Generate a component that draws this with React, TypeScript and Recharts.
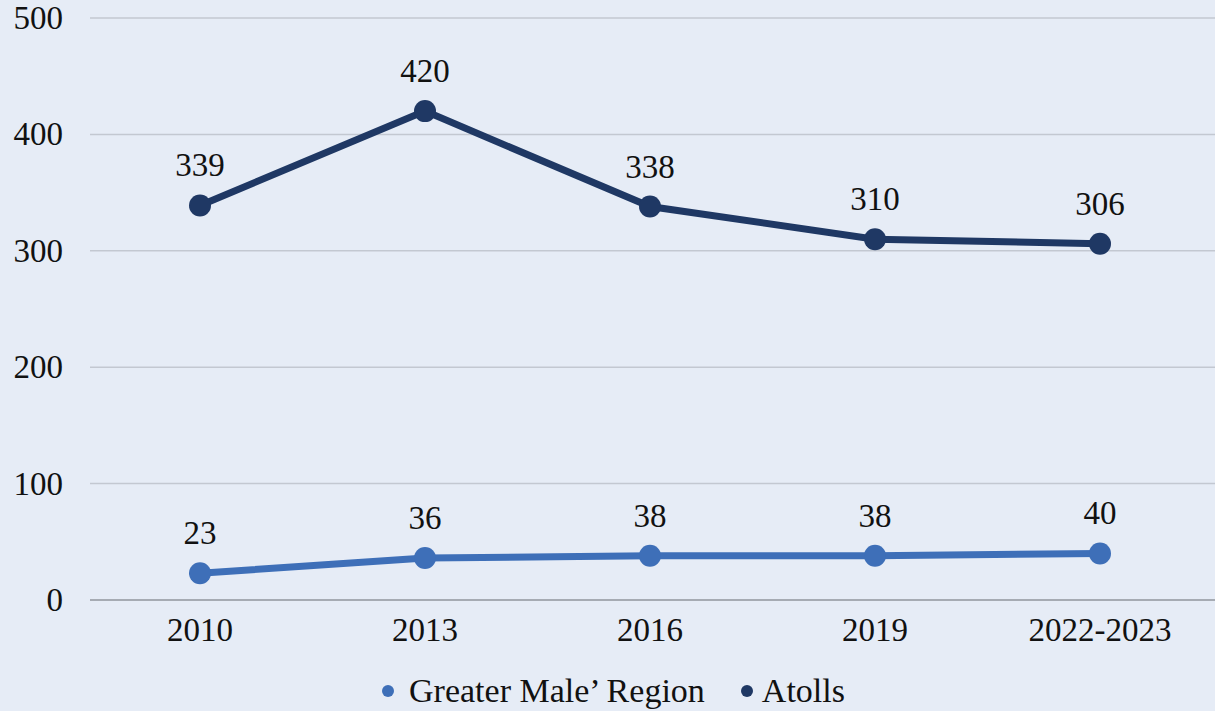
import React from "react";
import { LineChart, Line, XAxis, YAxis, CartesianGrid, Legend, LabelList } from "recharts";

const categories = ["2010", "2013", "2016", "2019", "2022-2023"];
const greaterMale = [23, 36, 38, 38, 40];
const atolls = [339, 420, 338, 310, 306];
const yTicks = [0, 100, 200, 300, 400, 500];

const data = categories.map((c, i) => ({ year: c, male: greaterMale[i], atolls: atolls[i] }));

const FONT = "Liberation Serif, Tinos, Times New Roman, DejaVu Serif, serif";
const LIGHT = "#3e6fb8";
const DARK = "#1f3864";

const YTick = (props: any) => {
  const { y, payload } = props;
  return (
    <text x={63} y={y} dy={11} textAnchor="end" style={{ fontFamily: FONT, fontSize: 33 }} fill="#111">
      {payload.value}
    </text>
  );
};

const XTick = (props: any) => {
  const { x, y, payload } = props;
  return (
    <text x={x} y={y} dy={33} textAnchor="middle" style={{ fontFamily: FONT, fontSize: 33 }} fill="#111">
      {payload.value}
    </text>
  );
};

const renderLabel = (props: any) => {
  const { x, y, value } = props;
  return (
    <text x={x} y={y - 29} textAnchor="middle" style={{ fontFamily: FONT, fontSize: 33 }} fill="#111">
      {value}
    </text>
  );
};

const LegendContent = () => (
  <div style={{ display: "flex", justifyContent: "center", alignItems: "center", fontFamily: FONT, fontSize: 34, lineHeight: "38px", color: "#111", paddingTop: 12, paddingLeft: 12 }}>
    <span style={{ display: "inline-block", width: 12, height: 12, borderRadius: 6, background: LIGHT, marginRight: 15 }} />
    <span style={{ marginRight: 36 }}>Greater Male’ Region</span>
    <span style={{ display: "inline-block", width: 12, height: 12, borderRadius: 6, background: DARK, marginRight: 9 }} />
    <span>Atolls</span>
  </div>
);

export default function App() {
  return (
    <div style={{ position: "absolute", left: 0, top: 0, width: 1215, height: 711, background: "#e6ecf6", overflow: "hidden", fontFamily: FONT }}>
      <LineChart width={1215} height={711} data={data} margin={{ top: 18, right: 0, bottom: 0, left: 0 }}>
        <CartesianGrid vertical={false} stroke="#c3c8d1" strokeWidth={1.5} />
        <XAxis
          dataKey="year"
          height={60}
          padding={{ left: 110, right: 115 }}
          axisLine={{ stroke: "#9a9ea6", strokeWidth: 1.5 }}
          tickLine={false}
          tick={<XTick />}
          interval={0}
        />
        <YAxis
          width={90}
          domain={[0, 500]}
          ticks={yTicks}
          axisLine={false}
          tickLine={false}
          tick={<YTick />}
          interval={0}
        />
        <Legend
          verticalAlign="bottom"
          height={51}
          content={<LegendContent />}
          wrapperStyle={{ position: "absolute", top: 660, left: 0, width: 1215, height: 51 }}
        />
        <Line
          dataKey="male"
          name="Greater Male’ Region"
          stroke={LIGHT}
          strokeWidth={7}
          dot={{ r: 11, fill: LIGHT, stroke: LIGHT, strokeWidth: 0 }}
          activeDot={false}
          isAnimationActive={false}
        >
          <LabelList dataKey="male" content={renderLabel} />
        </Line>
        <Line
          dataKey="atolls"
          name="Atolls"
          stroke={DARK}
          strokeWidth={7}
          dot={{ r: 11, fill: DARK, stroke: DARK, strokeWidth: 0 }}
          activeDot={false}
          isAnimationActive={false}
        >
          <LabelList dataKey="atolls" content={renderLabel} />
        </Line>
      </LineChart>
    </div>
  );
}
